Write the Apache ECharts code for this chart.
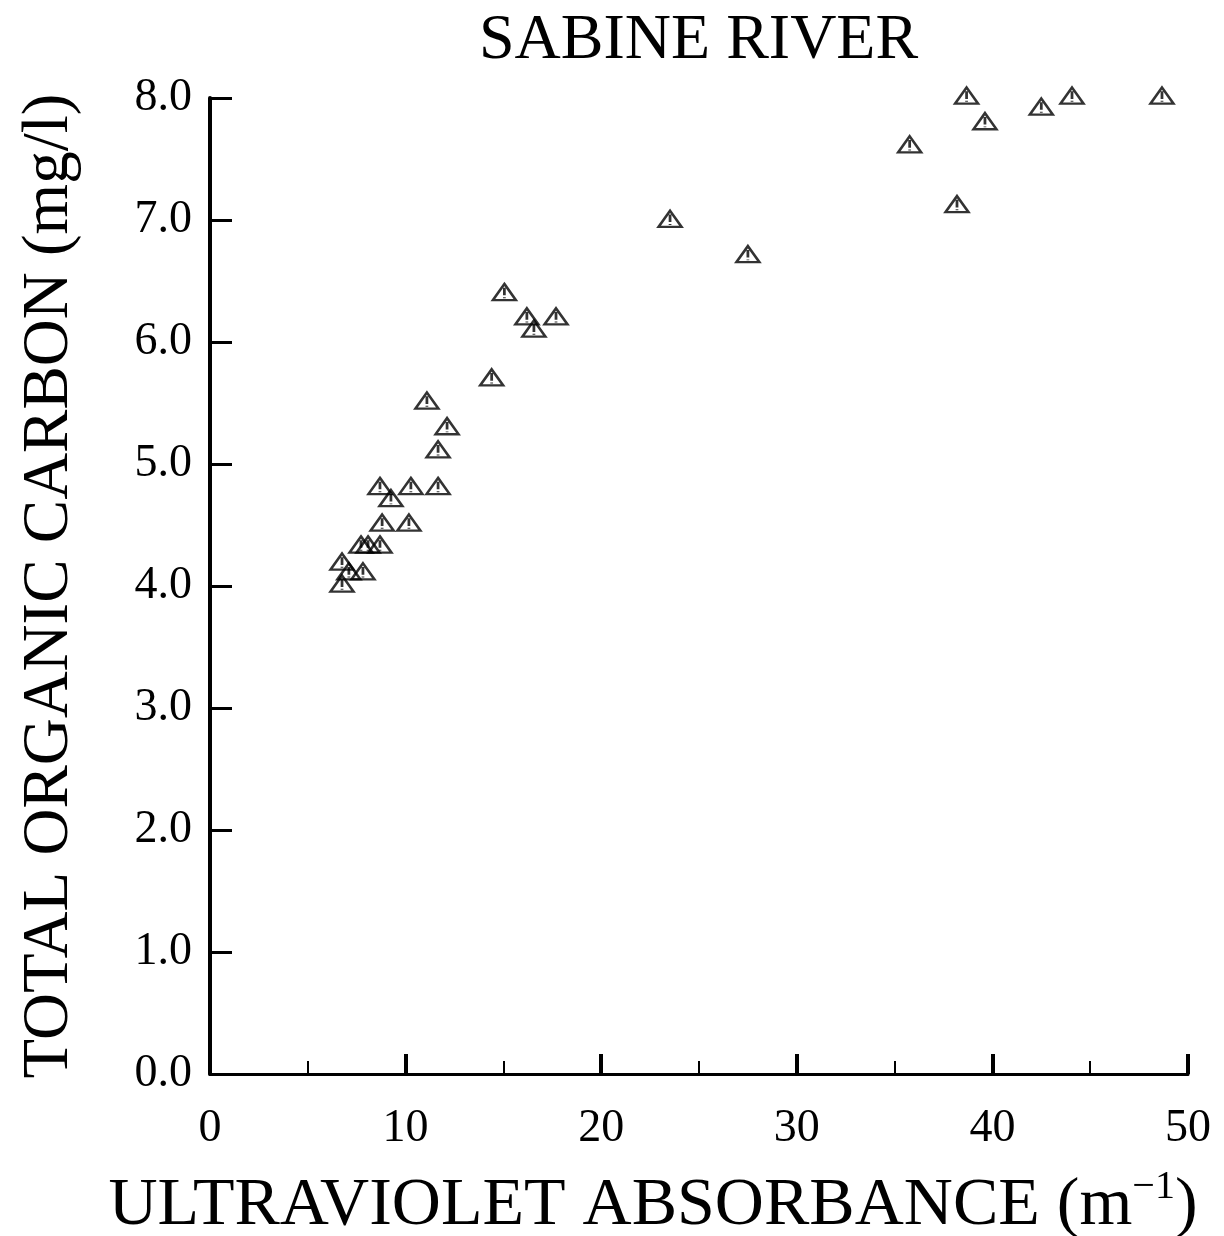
<!DOCTYPE html>
<html>
<head>
<meta charset="utf-8">
<script src="https://cdn.jsdelivr.net/npm/echarts@6/dist/echarts.min.js"></script>
<style>
html,body{margin:0;padding:0;background:#fff;}
#chart{width:1224px;height:1236px;}
</style>
</head>
<body>
<div id="chart"></div>
<script>
const titleText = 'SABINE RIVER';
const xName = 'ULTRAVIOLET ABSORBANCE';
const yName = 'TOTAL ORGANIC CARBON (mg/l)';
const uvAbsorbance = [6.75, 6.75, 7.1, 7.82, 7.72, 8.08, 8.69, 8.8, 10.17, 8.69, 9.25, 10.27, 11.66, 11.66, 12.12, 11.09, 14.4, 15.05, 16.2, 16.56, 17.69, 23.52, 27.5, 35.77, 38.19, 38.68, 39.62, 42.5, 44.07, 48.67];
const toc = [4.02, 4.2, 4.12, 4.12, 4.34, 4.34, 4.34, 4.52, 4.52, 4.82, 4.72, 4.82, 4.82, 5.12, 5.31, 5.52, 5.71, 6.41, 6.21, 6.11, 6.21, 7.01, 6.72, 7.62, 7.13, 8.02, 7.81, 7.93, 8.02, 8.02];
const xTicks = [0, 10, 20, 30, 40, 50];
const yTicks = [0, 1, 2, 3, 4, 5, 6, 7, 8];

const FONT = '"Liberation Serif", "DejaVu Serif", serif';
const points = uvAbsorbance.map((v, i) => [v, toc[i]]);
const chart = echarts.init(document.getElementById('chart'));
chart.setOption({
  backgroundColor: '#fff',
  animation: false,
  title: {
    text: titleText,
    left: 474,
    top: 4,
    textStyle: {fontFamily: FONT, fontSize: 64, fontWeight: 'normal', color: '#000'}
  },
  grid: {left: 210, right: 36, top: 98, bottom: 162, containLabel: false, outerBoundsMode: 'none'},
  xAxis: {
    type: 'value',
    min: xTicks[0], max: xTicks[xTicks.length - 1], interval: 10,
    name: xName + ' (m{sup|−1})',
    nameLocation: 'middle',
    nameGap: 93,
    nameTextStyle: {
      fontFamily: FONT, fontSize: 68, color: '#000', padding: [0, 92, 0, 0],
      rich: {sup: {fontFamily: FONT, fontSize: 40, color: '#000', verticalAlign: 'top', padding: [0, 0, 38, 0]}}
    },
    axisLine: {show: true, lineStyle: {color: '#000', width: 3}},
    axisTick: {show: true, inside: true, length: 20, lineStyle: {color: '#000', width: 4}},
    minorTick: {show: true, splitNumber: 2, length: 13, lineStyle: {color: '#000', width: 2}},
    axisLabel: {fontFamily: FONT, fontSize: 46, color: '#000', margin: 32},
    splitLine: {show: false}
  },
  yAxis: {
    type: 'value',
    min: yTicks[0], max: yTicks[yTicks.length - 1], interval: 1,
    name: yName,
    nameLocation: 'middle',
    nameGap: 128,
    nameTextStyle: {fontFamily: FONT, fontSize: 65, color: '#000'},
    axisLine: {show: true, lineStyle: {color: '#000', width: 4}},
    axisTick: {show: true, inside: true, length: 22, lineStyle: {color: '#000', width: 3}},
    axisLabel: {fontFamily: FONT, fontSize: 46, color: '#000', margin: 18, formatter: v => v.toFixed(1)},
    splitLine: {show: false}
  },
  series: [{
    type: 'scatter',
    data: points,
    clip: false,
    symbol: 'path://M10,0 L20,17 L0,17 Z M10,4 L10,12 M10,14 L10,15',
    symbolSize: [23, 19],
    symbolKeepAspect: true,
    itemStyle: {color: 'rgba(0,0,0,0)', borderColor: '#000', borderWidth: 2.5}
  }]
});
</script>
</body>
</html>
